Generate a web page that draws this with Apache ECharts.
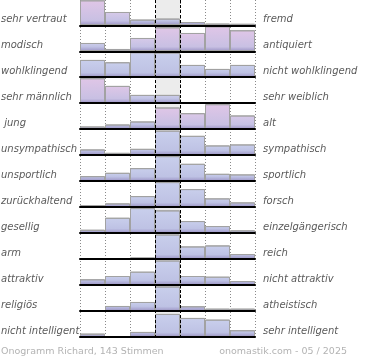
<!DOCTYPE html>
<html><head><meta charset="utf-8">
<script src="https://cdn.jsdelivr.net/npm/echarts@6/dist/echarts.min.js"></script>
<style>html,body{margin:0;padding:0;background:#fff}#c{width:370px;height:360px}</style>
</head><body><div id="c"></div>
<script>
const leftLabels = ['sehr vertraut','modisch','wohlklingend','sehr männlich',' jung','unsympathisch','unsportlich','zurückhaltend','gesellig','arm','attraktiv','religiös','nicht intelligent'];
const rightLabels = ['fremd','antiquiert','nicht wohlklingend','sehr weiblich','alt','sympathisch','sportlich','forsch','einzelgängerisch','reich','nicht attraktiv','atheistisch','sehr intelligent'];
const scaleSteps = ['1','2','3','4','5','6','7'];
const row0  = [25, 13.3, 5.7, 6.7, 3.3, 1.7, 1.5];
const row1  = [8.3, 2.3, 13.3, 24, 18.3, 25, 21];
const row2  = [17.3, 15, 25, 24.7, 12.3, 8.3, 12.3];
const row3  = [25, 17.3, 8.3, 8.3, 0, 0, 0];
const row4  = [2.7, 4.7, 7.7, 21.7, 16, 25, 13.7];
const row5  = [5.7, 2.3, 6.3, 24.5, 19.3, 9.7, 10.7];
const row6  = [5, 8.3, 13, 25, 17.3, 7.3, 6.7];
const row7  = [2, 3.7, 11, 25, 18, 8.7, 4.7];
const row8  = [3.3, 15.3, 25, 22.7, 12, 7, 2.7];
const row9  = [0, 0, 1.6, 24.5, 12.6, 13.6, 5];
const row10 = [5.7, 9, 13.3, 24.5, 9, 8.3, 4];
const row11 = [0, 5, 9, 24.5, 4.7, 2.3, 2.3];
const row12 = [3.3, 0.7, 5, 23, 19, 17.3, 6.7];
const rows = [row0,row1,row2,row3,row4,row5,row6,row7,row8,row9,row10,row11,row12];
const highlightedRows = [0,1,3,4];
const footerLeft = 'Onogramm Richard, 143 Stimmen';
const footerRight = 'onomastik.com - 05 / 2025';

const GL = 80, GW = 175, PITCH = 25.97, TOP0 = 0.3, RH = 25;
const BG = rows.length;

function hex(c){return [parseInt(c.slice(1,3),16),parseInt(c.slice(3,5),16),parseInt(c.slice(5,7),16)];}
function mix(a,b,t){const A=hex(a),B=hex(b);return 'rgb('+A.map((v,i)=>Math.round(v+(B[i]-v)*t)).join(',')+')';}
function fill(v, pink){
  let t = pink ? Math.max(0, Math.min(1, (v-6)/12)) : 0;
  const top = mix('#c9cfec', '#e0c6e7', t);
  const mid = mix('#bec2e4', '#cfbfe3', t*0.6);
  const s = v > 0 ? Math.max(0, 1 - 4.5/v) : 0;
  return new echarts.graphic.LinearGradient(0,0,0,1,[
    {offset:0,color:top},{offset:s,color:mid},{offset:1,color:'#9b93c4'}]);
}

const grid=[], xAxis=[], yAxis=[], series=[];
rows.forEach((r,i)=>{
  grid.push({left:GL, width:GW, top:TOP0+PITCH*i, height:RH});
  xAxis.push({type:'category', gridIndex:i, data:scaleSteps, boundaryGap:true, z:4,
    axisLine:{show:true, lineStyle:{color:'#000', width:2}}, axisTick:{show:false}, axisLabel:{show:false}, splitLine:{show:false}});
  yAxis.push({type:'value', gridIndex:i, min:0, max:25, show:false});
  const pink = highlightedRows.indexOf(i) >= 0;
  series.push({type:'bar', xAxisIndex:i, yAxisIndex:i, barWidth:'100%', barCategoryGap:'0%', z:2, silent:true,
    data:r.map(v=>({value:v, itemStyle:{color:fill(v,pink), borderColor:'#a2a2a2', borderWidth:1}}))});
});
grid.push({left:GL, width:GW, top:0, height:338});
xAxis.push({type:'value', gridIndex:BG, min:0, max:7, interval:1, axisLine:{show:false}, axisTick:{show:false}, axisLabel:{show:false},
  splitLine:{show:true, lineStyle:{type:[1,2], color:'#8a8a8a', width:1}}});
yAxis.push({type:'value', gridIndex:BG, min:0, max:1, show:false});
series.push({type:'line', xAxisIndex:BG, yAxisIndex:BG, data:[[3.5,0.5]], symbol:'none', lineStyle:{opacity:0}, z:0, silent:true,
  markArea:{silent:true, itemStyle:{color:'#ececec'}, data:[[{xAxis:3},{xAxis:4}]]}});
series.push({type:'line', xAxisIndex:BG, yAxisIndex:BG, data:[[3.5,0.5]], symbol:'none', lineStyle:{opacity:0}, z:6, silent:true,
  markLine:{silent:true, symbol:['none','none'], label:{show:false}, lineStyle:{type:[3,2], color:'#000', width:1},
    data:[{xAxis:3},{xAxis:4}]}});

const chart = echarts.init(document.getElementById('c'), null, {renderer:'canvas'});
chart.setOption({animation:false, grid, xAxis, yAxis, series});

const g = [];
const rightX = chart.convertToPixel({xAxisIndex:BG}, 7) + 8;
rows.forEach((r,i)=>{
  const base = chart.convertToPixel({yAxisIndex:i}, 0);
  g.push({type:'text', silent:true, style:{text:leftLabels[i], x:1, y:base-6, verticalAlign:'middle', fontFamily:'DejaVu Sans', fontStyle:'italic', fontSize:10, fill:'#5a5a5a'}});
  g.push({type:'text', silent:true, style:{text:rightLabels[i], x:rightX, y:base-6, verticalAlign:'middle', fontFamily:'DejaVu Sans', fontStyle:'italic', fontSize:10, fill:'#5a5a5a'}});
});
g.push({type:'text', silent:true, style:{text:footerLeft, x:1, y:352, verticalAlign:'middle', fontFamily:'DejaVu Sans', fontSize:9.5, fill:'#b3b3b3'}});
g.push({type:'text', silent:true, style:{text:footerRight, x:347, y:352, align:'right', verticalAlign:'middle', fontFamily:'DejaVu Sans', fontSize:9.5, fill:'#b3b3b3'}});
chart.setOption({graphic:g});
</script></body></html>
